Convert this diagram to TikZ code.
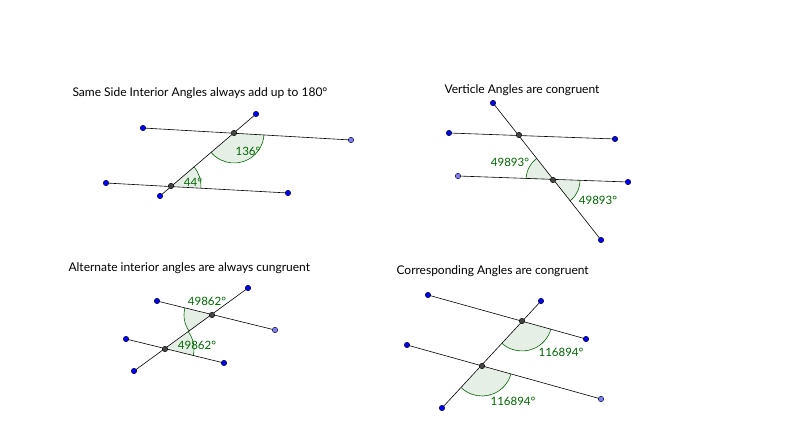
\documentclass[tikz,border=0pt]{standalone}
\usepackage{fontspec}
\setmainfont{Lato}
\usetikzlibrary{angles}
\definecolor{ptblue}{RGB}{0,0,255}
\definecolor{ptlight}{RGB}{125,125,255}
\definecolor{ptdark}{RGB}{68,68,68}
\definecolor{angg}{RGB}{0,100,0}
\definecolor{angfill}{RGB}{0,100,0}
\begin{document}
\begin{tikzpicture}[x=1pt,y=-1pt,
  pt/.style={circle,draw=black,fill=ptblue,inner sep=0pt,minimum size=5.5pt,line width=0.4pt},
  ptl/.style={pt,fill=ptlight},
  ptd/.style={pt,fill=ptdark},
  ln/.style={draw=black,line width=0.6pt},
  ang/.style={draw=angg,fill=angfill,fill opacity=0.1,draw opacity=1,line width=0.6pt},
  title/.style={anchor=west,font=\fontsize{12}{14}\selectfont},
  lab/.style={text=angg,font=\fontsize{11.5}{13}\selectfont}]
\useasboundingbox (0,0) rectangle (800,430);
% ---- panel 1
\node[title] (t1) at (69,93) {Same Side Interior Angles always add up to 180°};
\coordinate (a1) at (143,128); \coordinate (a2) at (351,140);
\coordinate (p1) at (234,133); \coordinate (tt) at (256,114);
\coordinate (tb) at (160,196); \coordinate (b1) at (106,183);
\coordinate (b2) at (288,193); \coordinate (p2) at (171,186);
\pic[ang,angle radius=30pt] {angle=p2--p1--a2};
\pic[ang,angle radius=30pt] {angle=b2--p2--p1};
\draw[ln] (a1)--(a2); \draw[ln] (b1)--(b2); \draw[ln] (tt)--(tb);
\node[pt] (na1) at (a1) {}; \node[ptl] (na2) at (a2) {};
\node[pt] (ntt) at (tt) {}; \node[pt] (ntb) at (tb) {};
\node[pt] (nb1) at (b1) {}; \node[pt] (nb2) at (b2) {};
\node[ptd] (np1) at (p1) {}; \node[ptd] (np2) at (p2) {};
\node[lab] (l1) at (248,151) {136°};
\node[lab] (l2) at (193,182) {44°};
% ---- panel 2
\node[title] (t2) at (441,90) {Verticle Angles are congruent};
\coordinate (c1) at (449,133); \coordinate (c2) at (615,139);
\coordinate (v1) at (519,135); \coordinate (vt) at (493,103);
\coordinate (vb) at (601,240); \coordinate (d1) at (458,176);
\coordinate (d2) at (628,182); \coordinate (v2) at (553,180);
\pic[ang,angle radius=27pt] {angle=v1--v2--d1};
\pic[ang,angle radius=27pt] {angle=vb--v2--d2};
\draw[ln] (c1)--(c2); \draw[ln] (d1)--(d2); \draw[ln] (vt)--(vb);
\node[pt] (nc1) at (c1) {}; \node[pt] (nc2) at (c2) {};
\node[pt] (nvt) at (vt) {}; \node[pt] (nvb) at (vb) {};
\node[ptl] (nd1) at (d1) {}; \node[pt] (nd2) at (d2) {};
\node[ptd] (nv1) at (v1) {}; \node[ptd] (nv2) at (v2) {};
\node[lab] (l3) at (510,162) {49893°};
\node[lab] (l4) at (598,200) {49893°};
% ---- panel 3
\node[title] (t3) at (65,268) {Alternate interior angles are always cungruent};
\coordinate (e1) at (157,301); \coordinate (e2) at (275,330);
\coordinate (q1) at (212,315); \coordinate (qt) at (248,288);
\coordinate (qb) at (134,371); \coordinate (f1) at (126,339);
\coordinate (f2) at (224,363); \coordinate (q2) at (165,349);
\pic[ang,angle radius=28pt] {angle=e1--q1--q2};
\pic[ang,angle radius=29pt] {angle=f2--q2--q1};
\draw[ln] (e1)--(e2); \draw[ln] (f1)--(f2); \draw[ln] (qt)--(qb);
\node[pt] (ne1) at (e1) {}; \node[ptl] (ne2) at (e2) {};
\node[pt] (nqt) at (qt) {}; \node[pt] (nqb) at (qb) {};
\node[pt] (nf1) at (f1) {}; \node[pt] (nf2) at (f2) {};
\node[ptd] (nq1) at (q1) {}; \node[ptd] (nq2) at (q2) {};
\node[lab] (l5) at (207,301) {49862°};
\node[lab] (l6) at (197,345) {49862°};
% ---- panel 4
\node[title] (t4) at (393,271) {Corresponding Angles are congruent};
\coordinate (g1) at (428,295); \coordinate (g2) at (586,339);
\coordinate (r1) at (522,321); \coordinate (rt) at (541,301);
\coordinate (rb) at (442,408); \coordinate (h1) at (407,345);
\coordinate (h2) at (601,399); \coordinate (r2) at (482,366);
\pic[ang,angle radius=30pt] {angle=r2--r1--g2};
\pic[ang,angle radius=30pt] {angle=rb--r2--h2};
\draw[ln] (g1)--(g2); \draw[ln] (h1)--(h2); \draw[ln] (rt)--(rb);
\node[pt] (ng1) at (g1) {}; \node[pt] (ng2) at (g2) {};
\node[pt] (nrt) at (rt) {}; \node[pt] (nrb) at (rb) {};
\node[pt] (nh1) at (h1) {}; \node[ptl] (nh2) at (h2) {};
\node[ptd] (nr1) at (r1) {}; \node[ptd] (nr2) at (r2) {};
\node[lab] (l7) at (561,352) {116894°};
\node[lab] (l8) at (513,401) {116894°};
\end{tikzpicture}
\end{document}
